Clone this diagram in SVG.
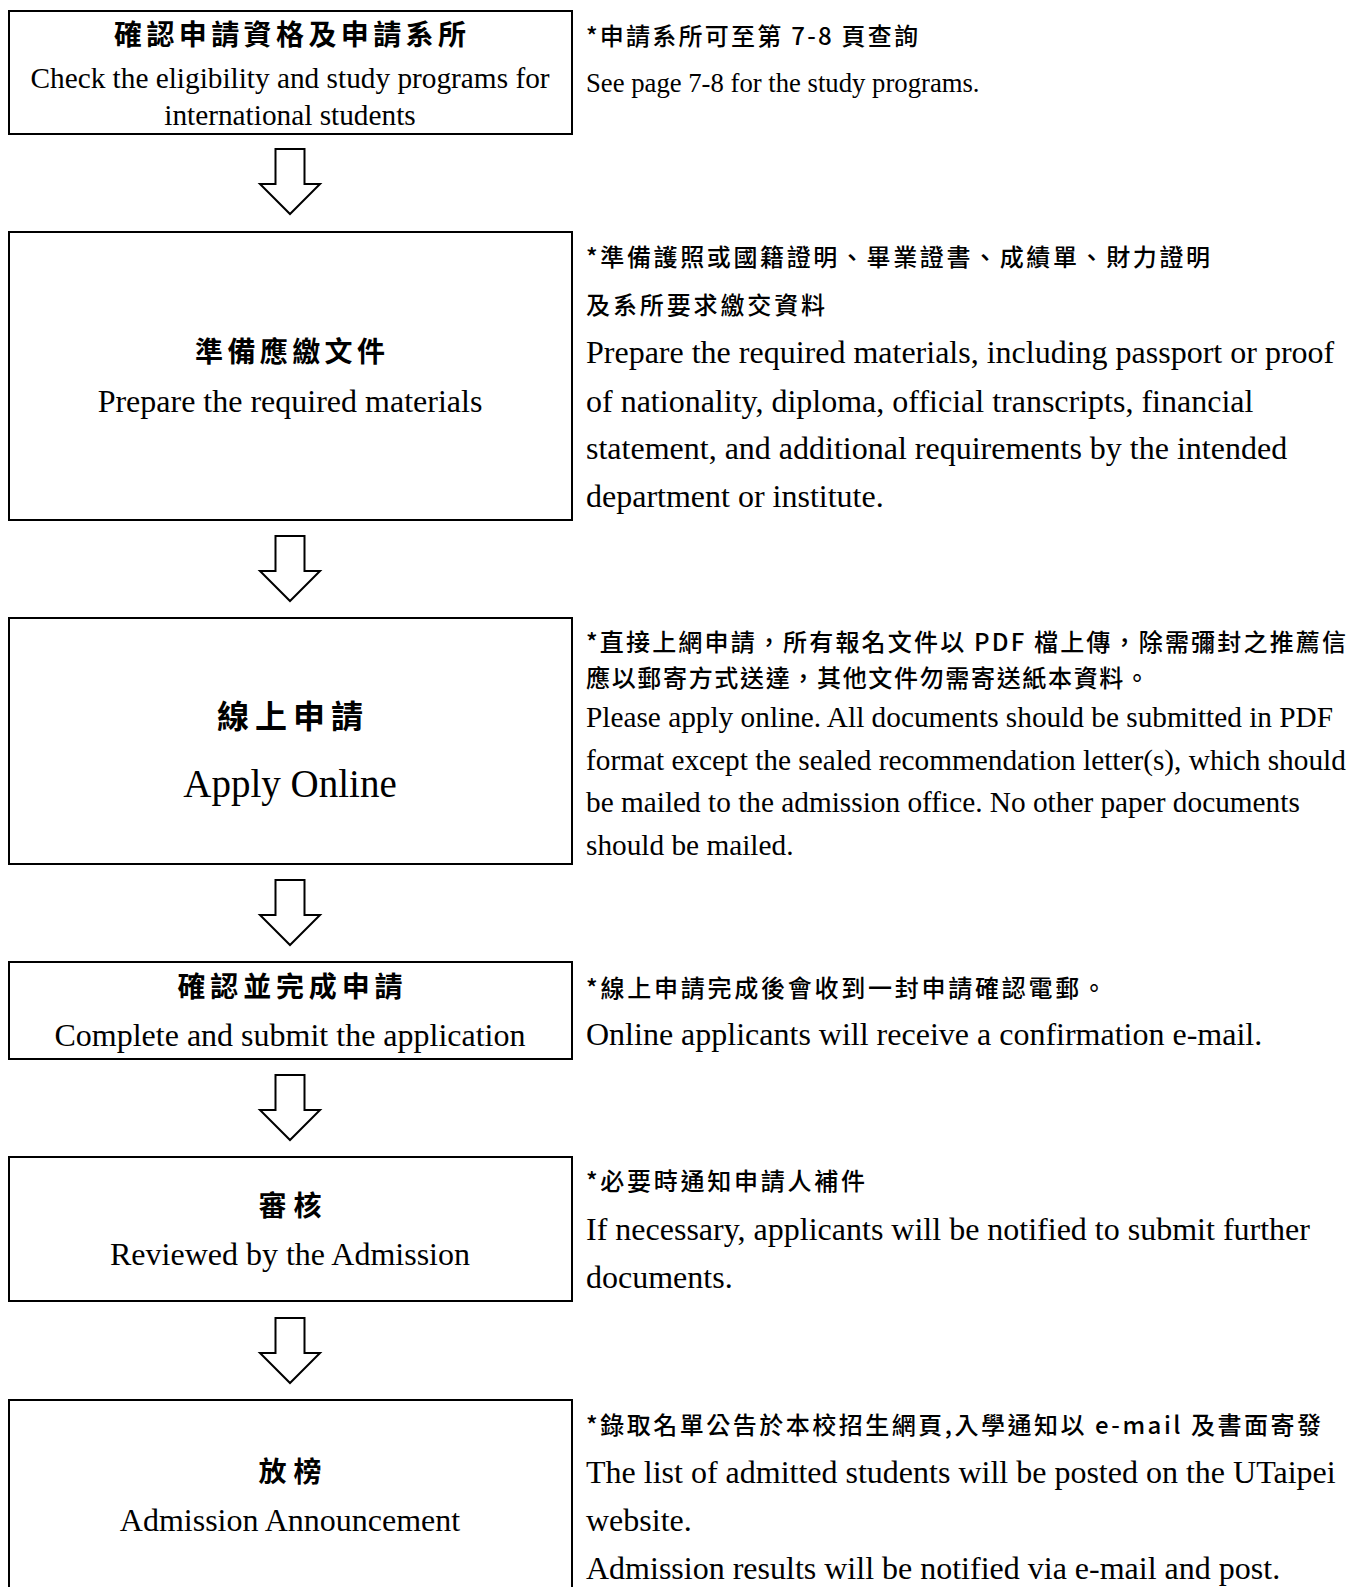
<svg xmlns="http://www.w3.org/2000/svg" width="1361" height="1587" viewBox="0 0 1361 1587">
<style>
.box{fill:#fff;stroke:#000;stroke-width:2}
.arr{fill:#fff;stroke:#000;stroke-width:2;stroke-linejoin:miter}
.en{font-family:"Liberation Serif","Times New Roman",serif;fill:#000}
.zh{font-family:"Noto Sans CJK TC","Noto Sans CJK SC",sans-serif;font-weight:700;fill:#000}
.zn{font-family:"Noto Sans CJK TC","Noto Sans CJK SC",sans-serif;font-weight:500;fill:#000}
.c{text-anchor:middle}
</style>
<defs>
<path id="arrow" class="arr" d="M275.5,0 H304.5 V35 H320 L290,65 L260,35 H275.5 Z"/>
</defs>
<rect width="1361" height="1587" fill="#fff"/>

<g id="connectors">
<use href="#arrow" y="149"/>
<use href="#arrow" y="536"/>
<use href="#arrow" y="880"/>
<use href="#arrow" y="1075"/>
<use href="#arrow" y="1318"/>
</g>

<g id="step1">
<rect class="box" x="9" y="11" width="563" height="123"/>
<text class="zh c" x="290" y="45" font-size="28" textLength="352" lengthAdjust="spacing">確認申請資格及申請系所</text>
<text class="en c" x="290" y="88" font-size="29.3">Check the eligibility and study programs for</text>
<text class="en c" x="290" y="125" font-size="29.3">international students</text>
</g>
<g id="note1">
<text class="zn" x="586" y="45" font-size="24" textLength="332" lengthAdjust="spacing">*申請系所可至第 7-8 頁查詢</text>
<text class="en" x="586" y="92" font-size="26.7">See page 7-8 for the study programs.</text>
</g>

<g id="step2">
<rect class="box" x="9" y="232" width="563" height="288"/>
<text class="zh c" x="290" y="362" font-size="28" textLength="190" lengthAdjust="spacing">準備應繳文件</text>
<text class="en c" x="290" y="412" font-size="32">Prepare the required materials</text>
</g>
<g id="note2">
<text class="zn" x="586" y="266" font-size="24" textLength="624" lengthAdjust="spacing">*準備護照或國籍證明、畢業證書、成績單、財力證明</text>
<text class="zn" x="586" y="314" font-size="24" textLength="239" lengthAdjust="spacing">及系所要求繳交資料</text>
<text class="en" x="586" y="363" font-size="32">Prepare the required materials, including passport or proof</text>
<text class="en" x="586" y="412" font-size="32">of nationality, diploma, official transcripts, financial</text>
<text class="en" x="586" y="459" font-size="32">statement, and additional requirements by the intended</text>
<text class="en" x="586" y="507" font-size="32">department or institute.</text>
</g>

<g id="step3">
<rect class="box" x="9" y="618" width="563" height="246"/>
<text class="zh c" x="290" y="728" font-size="32" textLength="146" lengthAdjust="spacing">線上申請</text>
<text class="en c" x="290" y="797" font-size="39">Apply Online</text>
</g>
<g id="note3">
<text class="zn" x="586" y="651" font-size="24" textLength="760" lengthAdjust="spacing">*直接上網申請，所有報名文件以 PDF 檔上傳，除需彌封之推薦信</text>
<text class="zn" x="586" y="687" font-size="24" textLength="563" lengthAdjust="spacing">應以郵寄方式送達，其他文件勿需寄送紙本資料。</text>
<text class="en" x="586" y="727" font-size="29.3">Please apply online. All documents should be submitted in PDF</text>
<text class="en" x="586" y="770" font-size="29.3">format except the sealed recommendation letter(s), which should</text>
<text class="en" x="586" y="812" font-size="29.3">be mailed to the admission office. No other paper documents</text>
<text class="en" x="586" y="855" font-size="29.3">should be mailed.</text>
</g>

<g id="step4">
<rect class="box" x="9" y="962" width="563" height="97"/>
<text class="zh c" x="290" y="997" font-size="28" textLength="225" lengthAdjust="spacing">確認並完成申請</text>
<text class="en c" x="290" y="1046" font-size="32">Complete and submit the application</text>
</g>
<g id="note4">
<text class="zn" x="586" y="997" font-size="24" textLength="520" lengthAdjust="spacing">*線上申請完成後會收到一封申請確認電郵。</text>
<text class="en" x="586" y="1045" font-size="32">Online applicants will receive a confirmation e-mail.</text>
</g>

<g id="step5">
<rect class="box" x="9" y="1157" width="563" height="144"/>
<text class="zh c" x="290" y="1216" font-size="28" textLength="63" lengthAdjust="spacing">審核</text>
<text class="en c" x="290" y="1265" font-size="32">Reviewed by the Admission</text>
</g>
<g id="note5">
<text class="zn" x="586" y="1190" font-size="24" textLength="279" lengthAdjust="spacing">*必要時通知申請人補件</text>
<text class="en" x="586" y="1240" font-size="32">If necessary, applicants will be notified to submit further</text>
<text class="en" x="586" y="1288" font-size="32">documents.</text>
</g>

<g id="step6">
<rect class="box" x="9" y="1400" width="563" height="220"/>
<text class="zh c" x="290" y="1482" font-size="28" textLength="63" lengthAdjust="spacing">放榜</text>
<text class="en c" x="290" y="1531" font-size="32">Admission Announcement</text>
</g>
<g id="note6">
<text class="zn" x="586" y="1434" font-size="24" textLength="735" lengthAdjust="spacing">*錄取名單公告於本校招生網頁,入學通知以 e-mail 及書面寄發</text>
<text class="en" x="586" y="1483" font-size="32">The list of admitted students will be posted on the UTaipei</text>
<text class="en" x="586" y="1531" font-size="32">website.</text>
<text class="en" x="586" y="1579" font-size="32">Admission results will be notified via e-mail and post.</text>
</g>
</svg>
